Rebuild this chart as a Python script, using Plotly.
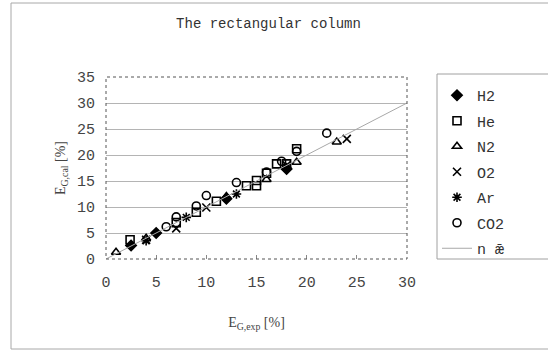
import plotly.graph_objects as go

# Experimental vs calculated gas hold-up, rectangular column
h2_exp = [2.5, 5.0, 12.0, 18.0]
h2_cal = [2.6, 5.0, 11.6, 17.3]

he_exp = [2.4, 7.0, 9.0, 11.0, 14.0, 15.0, 15.0, 16.0, 17.0, 18.0, 19.0]
he_cal = [3.7, 7.0, 9.0, 11.1, 14.1, 14.1, 15.1, 16.5, 18.3, 18.3, 21.2]

n2_exp = [1.0, 4.0, 12.0, 16.0, 19.0, 23.0]
n2_cal = [1.3, 4.0, 12.0, 15.3, 18.6, 22.5]

o2_exp = [4.0, 7.0, 10.0, 18.0, 24.0]
o2_cal = [3.7, 5.9, 9.9, 18.0, 23.1]

ar_exp = [4.0, 8.0, 13.0, 18.0]
ar_cal = [3.5, 8.0, 12.5, 17.6]

co2_exp = [6.0, 7.0, 9.0, 10.0, 13.0, 16.0, 17.5, 19.0, 22.0]
co2_cal = [6.2, 8.1, 10.2, 12.2, 14.7, 16.7, 18.8, 20.7, 24.2]

diag = [0, 30]

series = [
    ("H2", h2_exp, h2_cal, "diamond"),
    ("He", he_exp, he_cal, "square-open"),
    ("N2", n2_exp, n2_cal, "triangle-up-open"),
    ("O2", o2_exp, o2_cal, "x-thin-open"),
    ("Ar", ar_exp, ar_cal, "asterisk-open"),
    ("CO2", co2_exp, co2_cal, "circle-open"),
]

mono = "Liberation Mono, Courier New, monospace"
serif = "Liberation Serif, Times New Roman, serif"

fig = go.Figure()
for i, (name, xs, ys, sym) in enumerate(series):
    fig.add_trace(go.Scatter(
        x=xs, y=ys, mode="markers", name=name, legendgroup=f"g{i}",
        marker=dict(symbol=sym, size=8, color="black",
                    line=dict(color="black", width=1.6)),
    ))

fig.add_trace(go.Scatter(
    x=diag, y=diag, mode="lines", name="n ǣ", legendgroup="g6",
    line=dict(color="#a8a8a8", width=1),
))

L, R, T, B = 106, 141, 77, 95
PW, PH = 548 - L - R, 354 - T - B


def px_x(p):
    return (p - L) / PW


def px_y(p):
    return (354 - B - p) / PH


fig.update_layout(
    width=548, height=354,
    margin=dict(l=L, r=R, t=T, b=B),
    paper_bgcolor="white", plot_bgcolor="white",
    title=dict(text="The rectangular column", x=0.49, xanchor="center",
               y=1 - 23 / 354, yanchor="middle",
               font=dict(family=mono, size=14, color="#333")),
    showlegend=True,
    legend=dict(
        x=px_x(437), y=px_y(79), xanchor="left", yanchor="top",
        borderwidth=0, bgcolor="rgba(0,0,0,0)",
        font=dict(family=mono, size=15, color="#333"),
        tracegroupgap=3, itemwidth=30, maxheight=400,
    ),
    xaxis=dict(
        range=[0, 30], dtick=5, showgrid=False, zeroline=False,
        ticks="inside", ticklen=4, tickcolor="#888",
        tickfont=dict(family=mono, size=15, color="#444"),
        ticklabelstandoff=12,
        title=dict(text="E<sub>G,exp</sub> [%]", standoff=26,
                   font=dict(family=serif, size=14, color="#444")),
    ),
    yaxis=dict(
        range=[0, 35], dtick=5, showgrid=True, gridcolor="#b4b4b4", gridwidth=1,
        zeroline=False, ticks="",
        tickfont=dict(family=mono, size=15, color="#444"),
        ticklabelstandoff=10,
        title=dict(text="E<sub>G,cal</sub> [%]", standoff=8,
                   font=dict(family=serif, size=14, color="#444")),
    ),
    shapes=[
        # dotted frame of the plotting area
        dict(type="rect", xref="paper", yref="paper", x0=0, x1=1, y0=0, y1=1,
             line=dict(color="#555", width=1, dash="dot")),
        # legend frame, running past the right edge of the chart
        dict(type="rect", xref="paper", yref="paper",
             x0=px_x(437), x1=px_x(600), y0=px_y(259), y1=px_y(74),
             line=dict(color="#a0a0a0", width=1), layer="below"),
        # outer chart border
        dict(type="rect", xref="paper", yref="paper",
             x0=px_x(11), x1=px_x(600), y0=px_y(349), y1=px_y(3),
             line=dict(color="#a8a8a8", width=1), layer="below"),
    ],
)

fig.write_html("out.html")
